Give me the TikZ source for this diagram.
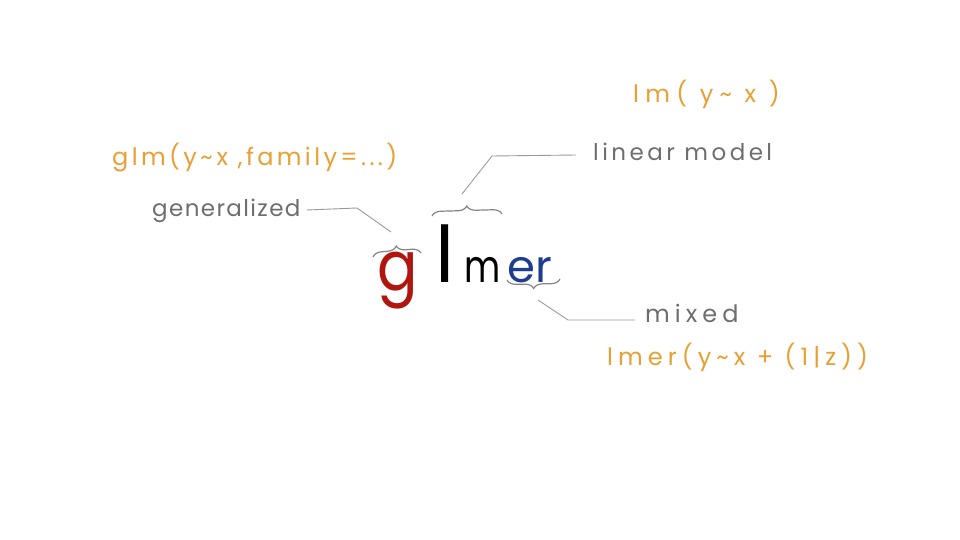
\documentclass[tikz,border=0pt]{standalone}
\usepackage{fontspec}
\setmainfont{Poppins}
\usetikzlibrary{decorations.pathreplacing}
\definecolor{orangeT}{HTML}{E8A035}
\definecolor{grayT}{HTML}{6E6E6E}
\definecolor{redT}{HTML}{B0150F}
\definecolor{blueT}{HTML}{1E3D8F}
\definecolor{lineT}{HTML}{9A9A9A}
\tikzset{
  formula/.style={text=orangeT, inner sep=0pt},
  label/.style={text=grayT, inner sep=0pt},
  big/.style={inner sep=0pt},
  conn/.style={draw=lineT, line width=0.9pt},
  bracestyle/.style={draw=grayT!85, line width=1.2pt, decorate,
    decoration={brace, amplitude=9pt}},
}
\begin{document}
\begin{tikzpicture}[x=1pt,y=-1pt]
\useasboundingbox (0,0) rectangle (960,540);
% big word
\node[big, text=redT, anchor=base west, font=\fontsize{60}{60}\selectfont] (g) at (377,290) {\scalebox{1}[1.15]{g}};
\node[big, text=black, anchor=base west, font=\fontsize{78}{78}\selectfont] (l) at (435,282) {l};
\node[big, text=black, anchor=base west, font=\fontsize{45}{45}\selectfont] (m) at (464,282) {\scalebox{0.78}[1]{m}};
\node[big, text=blueT, anchor=base west, font=\fontsize{45}{45}\selectfont] (er) at (507,282) {er};
% braces
\coordinate (gbL) at (373,257);
\coordinate (gbR) at (421,253);
\draw[bracestyle] (gbL) -- (gbR);
\coordinate (lbL) at (432,216);
\coordinate (lbR) at (502,214);
\draw[bracestyle] (lbL) -- (lbR);
\coordinate (ebL) at (507,280);
\coordinate (ebR) at (560,279);
\draw[bracestyle, decoration={brace, amplitude=9pt, mirror}] (ebL) -- (ebR);
% labels
\node[label, anchor=west, font=\fontsize{23}{23}\selectfont\addfontfeatures{LetterSpace=6}] (gen) at (152,211) {generalized};
\node[label, anchor=west, font=\fontsize{23}{23}\selectfont\addfontfeatures{LetterSpace=15}] (lin) at (593,152) {linear model};
\node[label, anchor=west, font=\fontsize{24}{24}\selectfont\addfontfeatures{LetterSpace=21}] (mix) at (645,313) {mixed};
% formulas
\node[formula, anchor=west, font=\fontsize{24}{24}\selectfont\addfontfeatures{LetterSpace=14}] (glmf) at (112,158) {glm(y\textasciitilde\,x ,family=...)};
\node[formula, anchor=west, font=\fontsize{24}{24}\selectfont\addfontfeatures{LetterSpace=26}] (lmf) at (633,94) {lm( y\textasciitilde\ x )};
\node[formula, anchor=west, font=\fontsize{24}{24}\selectfont\addfontfeatures{LetterSpace=21}] (lmerf) at (607,357) {lmer(y\textasciitilde x + (1|z))};
% connectors
\coordinate (genK) at (357,208);
\coordinate (genT) at (391,232);
\draw[conn] (gen.east) ++(6,-1) -- (genK) -- (genT);
\coordinate (linK) at (492,156);
\coordinate (linT) at (462,194);
\draw[conn] (lin.west) ++(-17,3) -- (linK) -- (linT);
\coordinate (mixK) at (568,320);
\coordinate (mixT) at (538,300);
\draw[conn] (mix.west) ++(-10,7) -- (mixK) -- (mixT);
\end{tikzpicture}
\end{document}
